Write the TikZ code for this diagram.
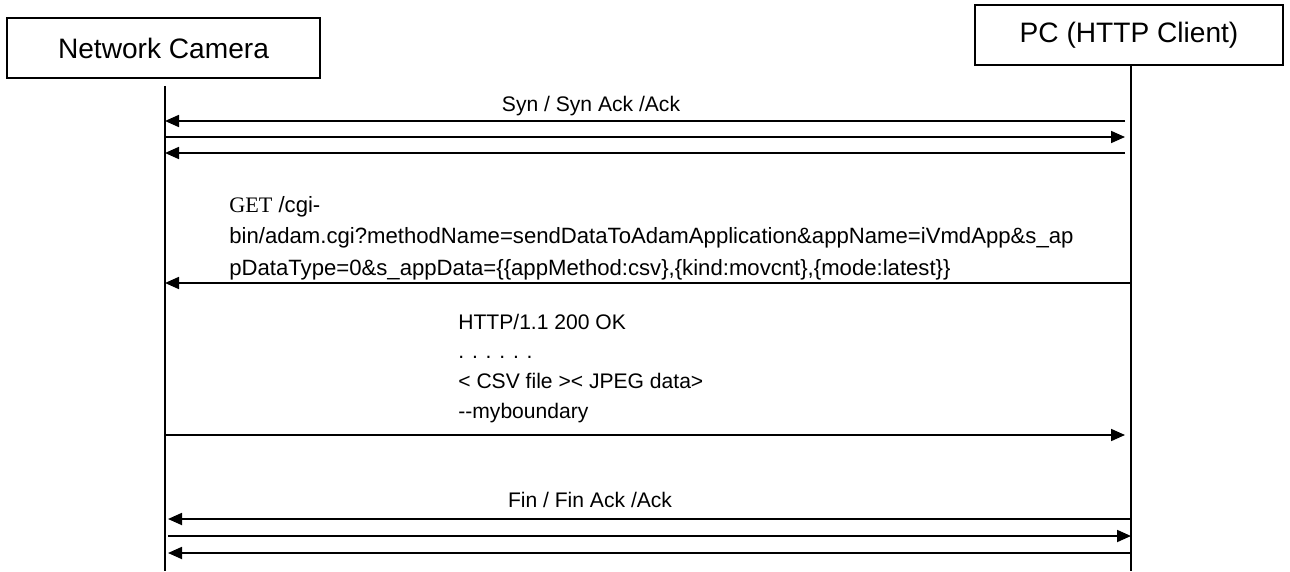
\documentclass[tikz,border=0pt]{standalone}
\usepackage{fontspec}
\setmainfont{Liberation Sans}
\newfontfamily\getfont{Liberation Serif}
\usetikzlibrary{positioning, arrows.meta}

\begin{document}
\begin{tikzpicture}[x=0.02cm, y=-0.02cm, >={Triangle[length=0.28cm, width=0.24cm]}]
        % Define styles for shapes
        \tikzstyle{actor} = [draw, line width=0.8pt, minimum height=1.2cm, inner sep=0pt, font=\fontsize{16}{19}\selectfont]
        \tikzstyle{msg} = [->, line width=1pt]
        \tikzstyle{msgtext} = [inner sep=0pt, font=\fontsize{12}{14}\selectfont]
        \tikzstyle{lifeline} = [line width=0.8pt]
        \useasboundingbox (0,0) rectangle (1290,571);

        % Draw actors
        \node[actor, minimum width=6.26cm] (camera) at (163.5,48) {Network Camera};
        \node[actor, minimum width=6.16cm] (client) at (1129,35) {PC (HTTP Client)};

        % Lifelines
        \coordinate (camtop) at (165,86);
        \coordinate (cambot) at (165,571);
        \coordinate (pcbot) at (1131,571);
        \draw[lifeline] (camtop) -- (cambot);
        \draw[lifeline] (client.south -| pcbot) -- (pcbot);

        % Message end points
        \foreach \n/\y in {1/121, 2/137, 3/153, 5/435} {
            \coordinate (c\n) at (165,\y);
            \coordinate (p\n) at (1125,\y);
        }
        \coordinate (c4) at (165,283);
        \coordinate (p4) at (1131,283);
        \foreach \n/\y in {6/519, 7/536, 8/553} {
            \coordinate (c\n) at (168,\y);
            \coordinate (p\n) at (1131,\y);
        }

        % Draw arrows
        \draw[msg] (p1) -- (c1);
        \draw[msg] (c2) -- (p2);
        \draw[msg] (p3) -- (c3);
        \node[msgtext] (syn) at (591,106) {Syn / Syn Ack /Ack};

        % anchor is the baseline of the last line
        \node[msgtext, anchor=base west, align=left, font=\fontsize{12.6}{17.9}\selectfont] (getreq) at (229,275) {%
            {\getfont GET} /cgi-\\
            bin/adam.cgi?methodName=sendDataToAdamApplication\&appName=iVmdApp\&s\_ap\\
            pDataType=0\&s\_appData=\{\{appMethod:csv\},\{kind:movcnt\},\{mode:latest\}\}};
        \draw[msg] (p4) -- (c4);

        \node[msgtext, anchor=base west, align=left, font=\fontsize{12}{16.8}\selectfont] (reply) at (458,418) {%
            HTTP/1.1 200 OK\\
            . . . . . .\\
            < CSV file >< JPEG data>\\
            \mbox{-}\mbox{-}myboundary};
        \draw[msg] (c5) -- (p5);

        \node[msgtext] (fin) at (590,500) {Fin / Fin Ack /Ack};
        \draw[msg] (p6) -- (c6);
        \draw[msg] (c7) -- (p7);
        \draw[msg] (p8) -- (c8);
\end{tikzpicture}
\end{document}
